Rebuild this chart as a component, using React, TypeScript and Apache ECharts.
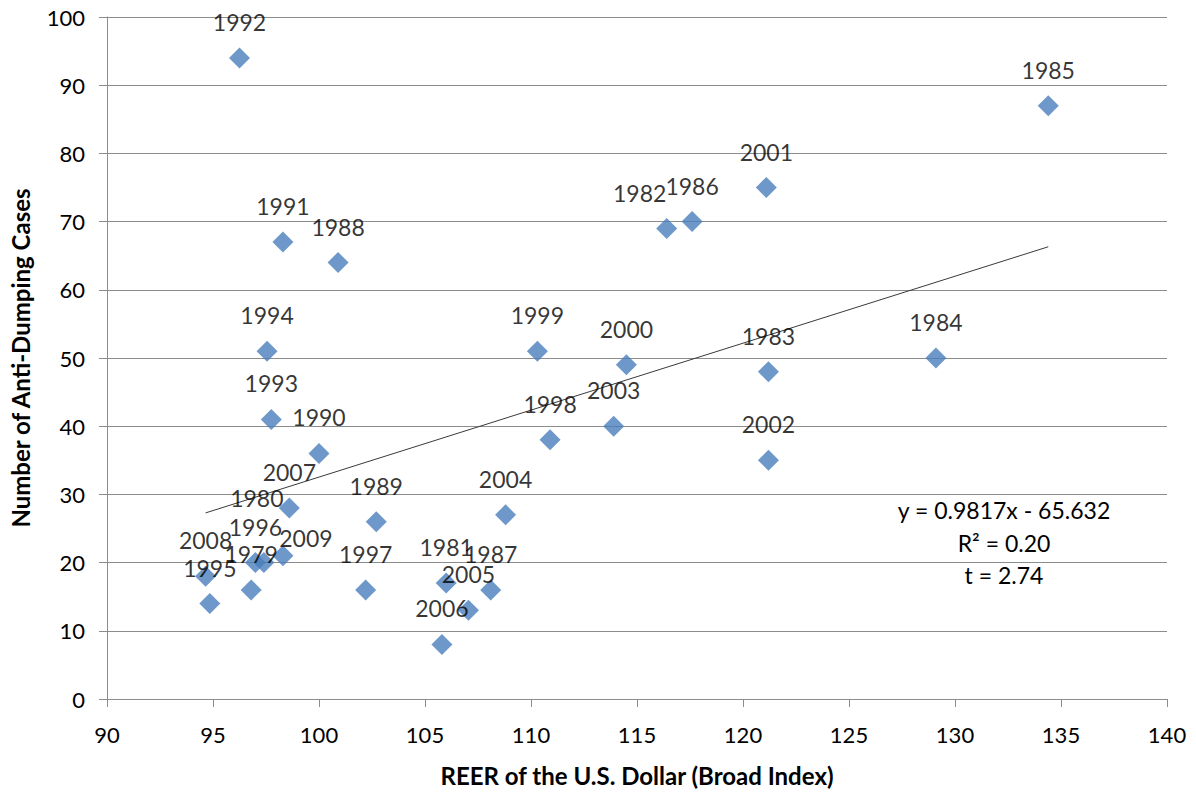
import React, { useEffect, useRef } from "react";
import * as echarts from "echarts";

// Year of each observation
const years = [
  1979, 1980, 1981, 1982, 1983, 1984, 1985, 1986, 1987, 1988, 1989, 1990, 1991, 1992, 1993, 1994,
  1995, 1996, 1997, 1998, 1999, 2000, 2001, 2002, 2003, 2004, 2005, 2006, 2007, 2008, 2009,
];
// REER of the U.S. Dollar (Broad Index)
const reer = [
  96.8, 97.4, 106.0, 116.4, 121.2, 129.1, 134.4, 117.6, 108.1, 100.9, 102.7, 100.0, 98.3, 96.25, 97.75, 97.55,
  94.85, 97.0, 102.2, 110.9, 110.3, 114.5, 121.1, 121.2, 113.9, 108.8, 107.05, 105.8, 98.6, 94.65, 98.3,
];
// Number of anti-dumping cases
const cases = [
  16, 20, 17, 69, 48, 50, 87, 70, 16, 64, 26, 36, 67, 94, 41, 51,
  14, 20, 16, 38, 51, 49, 75, 35, 40, 27, 13, 8, 28, 18, 21,
];

// Trend line coefficients (from the chart's equation)
const slope = 0.9817;
const intercept = -65.632;
const statLines = ["y = 0.9817x - 65.632", "R\u00b2 = 0.20", "t = 2.74"];

// label placement tweaks (styling, not data)
const defaultLabelOffset = [0, -36];
const labelOffsets: Record<number, number[]> = {
  1980: [-7, -65],
  1982: [-27, -35],
  2009: [23, -18],
};

const FONT = "Lato, 'Open Sans', sans-serif";

export default function App() {
  const ref = useRef<HTMLDivElement>(null);
  useEffect(() => {
    if (!ref.current) return;
    const chart = echarts.init(ref.current, null, { renderer: "svg" });
    const pts = years.map((y, i) => ({
      name: String(y),
      value: [reer[i], cases[i]],
      label: { offset: labelOffsets[y] || defaultLabelOffset },
    }));
    const xMin = Math.min(...reer);
    const xMax = Math.max(...reer);
    const trend = [
      [xMin, slope * xMin + intercept],
      [xMax, slope * xMax + intercept],
    ];
    const gridColor = "#8c8c8c";
    chart.setOption({
      animation: false,
      backgroundColor: "#ffffff",
      textStyle: { fontFamily: FONT },
      grid: { left: 106, right: 29, top: 17, bottom: 91 },
      xAxis: {
        type: "value",
        min: 90,
        max: 140,
        interval: 5,
        name: "REER of the U.S. Dollar (Broad Index)",
        nameLocation: "middle",
        nameGap: 64,
        nameTextStyle: { fontFamily: FONT, fontSize: 24, fontWeight: "bold", color: "#000" },
        axisLine: { show: true, lineStyle: { color: gridColor, width: 1 } },
        axisTick: { show: true, inside: false, length: 8, lineStyle: { color: gridColor } },
        axisLabel: { color: "#000", fontSize: 22, margin: 24, fontFamily: FONT },
        splitLine: { show: false },
      },
      yAxis: {
        type: "value",
        min: 0,
        max: 100,
        interval: 10,
        name: "Number of Anti-Dumping Cases",
        nameLocation: "middle",
        nameGap: 75,
        nameTextStyle: { fontFamily: FONT, fontSize: 24, fontWeight: "bold", color: "#000" },
        axisLine: { show: true, onZero: false, lineStyle: { color: gridColor, width: 1 } },
        axisTick: { show: true, inside: false, length: 8, lineStyle: { color: gridColor } },
        axisLabel: { color: "#000", fontSize: 22, margin: 22, fontFamily: FONT },
        splitLine: { show: true, lineStyle: { color: gridColor, width: 1 } },
      },
      series: [
        {
          type: "line",
          data: trend,
          symbol: "none",
          lineStyle: { color: "#3a3a3a", width: 1 },
          silent: true,
          z: 1,
        },
        {
          type: "scatter",
          data: pts,
          symbol: "diamond",
          symbolSize: 21,
          itemStyle: { color: "#4a7ebb" },
          z: 2,
          label: {
            show: true,
            position: "inside",
            formatter: "{b}",
            color: "#000",
            fontSize: 23,
            fontFamily: FONT,
          },
        },
      ],
      graphic: statLines.map((t, i) => ({
        type: "text",
        x: 1004,
        y: 510 + i * 32.5,
        z: 10,
        style: {
          text: t,
          fill: "#000",
          font: `23px ${FONT}`,
          textAlign: "center",
          textVerticalAlign: "middle",
        },
      })),
    });
    return () => chart.dispose();
  }, []);
  return (
    <div
      ref={ref}
      style={{ position: "fixed", left: 0, top: 0, width: 1196, height: 792, background: "#fff" }}
    />
  );
}
